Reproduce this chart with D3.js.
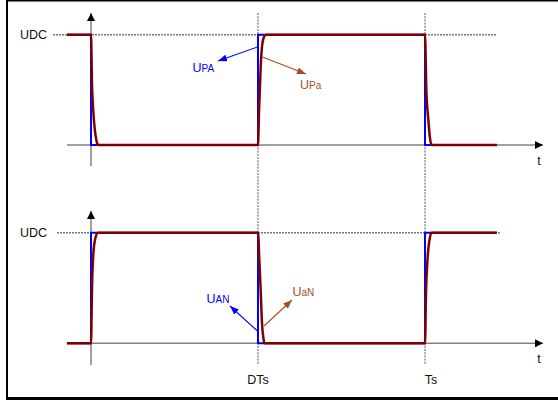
<!DOCTYPE html>
<html>
<head>
<meta charset="utf-8">
<script src="https://cdn.jsdelivr.net/npm/d3@7"></script>
<style>
  body { margin: 0; background: #fff; }
  text { font-family: 'Liberation Sans', Arial, sans-serif; }
</style>
</head>
<body>
<script>
// time in units of Ts, level in units of UDC
const tickValues = [0.5, 1];
const tickLabels = ['DTs', 'Ts'];

// ideal switch voltages (blue)
const idealTop = [[-0.072, 1], [0, 1], [0, 0], [0.5, 0], [0.5, 1], [1, 1], [1, 0], [1.215, 0]];
const idealBottom = [[-0.072, 0], [0, 0], [0, 1], [0.5, 1], [0.5, 0], [1, 0], [1, 1], [1.215, 1]];

const realTop = [
  [-0.072, 1], [0, 1], [0.003, 0.55], [0.007, 0.3], [0.010, 0.18], [0.014, 0.08], [0.018, 0.02], [0.022, 0],
  [0.5, 0], [0.503, 0.3], [0.508, 0.71], [0.513, 0.92], [0.518, 0.98], [0.524, 1],
  [1, 1], [1.004, 0.5], [1.010, 0.23], [1.015, 0.06], [1.020, 0], [1.215, 0],
];
const realBottom = [
  [-0.072, 0], [0, 0], [0.003, 0.5], [0.007, 0.81], [0.013, 0.95], [0.021, 1],
  [0.5, 1], [0.504, 0.75], [0.508, 0.48], [0.512, 0.18], [0.516, 0.05], [0.520, 0],
  [1, 0], [1.003, 0.45], [1.008, 0.78], [1.013, 0.93], [1.020, 1], [1.215, 1],
];

const annotations = [
  {panel: 0, main: 'U', sub: 'PA', color: '#0000ff', tx: 192.5, ty: 71.7, from: [257.5, 47], to: [218, 61]},
  {panel: 0, main: 'U', sub: 'Pa', color: '#a84e1e', tx: 300, ty: 89, from: [262.5, 57], to: [306, 74]},
  {panel: 1, main: 'U', sub: 'AN', color: '#0000ff', tx: 206.5, ty: 303, from: [257.5, 331], to: [230, 306]},
  {panel: 1, main: 'U', sub: 'aN', color: '#a84e1e', tx: 292.5, ty: 296, from: [264, 326], to: [292, 300]},
];

const width = 558;
const height = 401;

const svg = d3.select('body').append('svg')
  .attr('width', width)
  .attr('height', height);

const defs = svg.append('defs');
function marker(id, color, w, h) {
  defs.append('marker')
    .attr('id', id)
    .attr('viewBox', `0 0 ${w} ${h}`)
    .attr('refX', w).attr('refY', h / 2)
    .attr('markerWidth', w).attr('markerHeight', h)
    .attr('markerUnits', 'userSpaceOnUse')
    .attr('orient', 'auto')
    .append('path')
    .attr('d', `M0,0L${w},${h / 2}L0,${h}Z`)
    .attr('fill', color);
}
marker('ax', '#000', 8, 8);
marker('blueArr', '#0000ff', 9, 7);
marker('brownArr', '#a84e1e', 9, 7);

// frame
svg.append('line').attr('x1', 6).attr('x2', 560).attr('y1', 0.75).attr('y2', 0.75)
  .attr('stroke', '#000').attr('stroke-width', 1.5);
svg.append('line').attr('x1', 7).attr('x2', 7).attr('y1', 0).attr('y2', 400)
  .attr('stroke', '#000').attr('stroke-width', 2);
svg.append('line').attr('x1', 6).attr('x2', 560).attr('y1', 398.5).attr('y2', 398.5)
  .attr('stroke', '#000').attr('stroke-width', 3);

const x = d3.scaleLinear().domain([0, 1]).range([91, 425]);

const panels = [
  {y: d3.scaleLinear().domain([0, 1]).range([145, 34.7]), ideal: idealTop, real: realTop,
    axisTop: 13, axisBottom: 166, udcFrom: 53, udcTo: 497},
  {y: d3.scaleLinear().domain([0, 1]).range([343.3, 232.7]), ideal: idealBottom, real: realBottom,
    axisTop: 211, axisBottom: 365, udcFrom: 57, udcTo: 501},
];

// vertical dotted markers at DTs and Ts
svg.selectAll('.vmark')
  .data(tickValues)
  .join('line')
  .attr('class', 'vmark')
  .attr('x1', (d) => x(d)).attr('x2', (d) => x(d))
  .attr('y1', 13).attr('y2', 365)
  .attr('stroke', '#555')
  .attr('stroke-width', 1)
  .attr('stroke-dasharray', '2,1.2');

svg.selectAll('.tick-label')
  .data(tickValues)
  .join('text')
  .attr('class', 'tick-label')
  .attr('x', (d, i) => x(d) + (i === 1 ? 6 : 0))
  .attr('y', 384)
  .attr('text-anchor', 'middle')
  .style('font-size', '12.5px')
  .attr('fill', '#111')
  .text((d, i) => tickLabels[i]);

panels.forEach((p) => {
  const g = svg.append('g');

  // UDC dotted level
  g.append('line')
    .attr('x1', p.udcFrom).attr('x2', p.udcTo)
    .attr('y1', p.y(1)).attr('y2', p.y(1))
    .attr('stroke', '#777')
    .attr('stroke-width', 1.6)
    .attr('stroke-dasharray', '2,1');

  g.append('text')
    .attr('x', 20).attr('y', p.y(1) + 4.5)
    .style('font-size', '12.5px')
    .attr('fill', '#111')
    .text('UDC');

  // time axis
  g.append('line')
    .attr('x1', 67).attr('x2', 543)
    .attr('y1', p.y(0)).attr('y2', p.y(0))
    .attr('stroke', '#808080')
    .attr('stroke-width', 1.5)
    .attr('marker-end', 'url(#ax)');

  g.append('text')
    .attr('x', 539).attr('y', p.y(0) + 19.5)
    .attr('text-anchor', 'middle')
    .style('font-size', '12.5px')
    .attr('fill', '#111')
    .text('t');

  // voltage axis
  g.append('line')
    .attr('x1', x(0)).attr('x2', x(0))
    .attr('y1', p.axisBottom).attr('y2', p.axisTop)
    .attr('stroke', '#808080')
    .attr('stroke-width', 1.5)
    .attr('marker-end', 'url(#ax)');

  const line = d3.line()
    .x((d) => x(d[0]))
    .y((d) => p.y(d[1]));

  g.append('path')
    .attr('d', line(p.ideal))
    .attr('fill', 'none')
    .attr('stroke', '#0000ff')
    .attr('stroke-width', 2);

  g.append('path')
    .attr('d', line.curve(d3.curveMonotoneX)(p.real))
    .attr('fill', 'none')
    .attr('stroke', '#800000')
    .attr('stroke-width', 2.5);
});

// labels with arrows
annotations.forEach((a) => {
  svg.append('line')
    .attr('x1', a.from[0]).attr('y1', a.from[1])
    .attr('x2', a.to[0]).attr('y2', a.to[1])
    .attr('stroke', a.color)
    .attr('stroke-width', 1.1)
    .attr('marker-end', a.color === '#0000ff' ? 'url(#blueArr)' : 'url(#brownArr)');

  const t = svg.append('text')
    .attr('x', a.tx).attr('y', a.ty)
    .attr('fill', a.color)
    .style('font-size', '12.5px');
  t.append('tspan').text(a.main);
  t.append('tspan').style('font-size', '10px').text(a.sub);
});
</script>
</body>
</html>
